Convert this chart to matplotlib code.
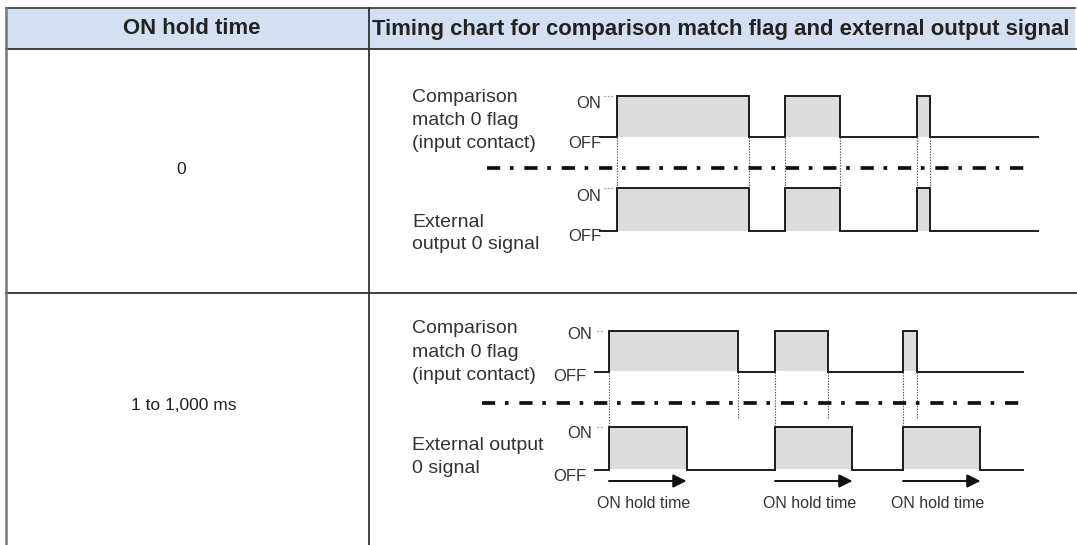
import matplotlib
matplotlib.use("Agg")
import matplotlib.pyplot as plt
from matplotlib.patches import Rectangle

plt.rcParams["font.family"] = ["Liberation Sans", "DejaVu Sans"]
plt.rcParams["lines.scale_dashes"] = False

W, H, DPI = 1077, 545, 100

# ---------------- data ----------------
col_headers = ["ON hold time",
               "Timing chart for comparison match flag and external output signal"]
hold_labels = ["0", "1 to 1,000 ms"]
flag_label = ["Comparison", "match 0 flag", "(input contact)"]
out_label_row1 = ["External", "output 0 signal"]
out_label_row2 = ["External output", "0 signal"]
level_labels = ["ON", "OFF"]
hold_arrow_label = "ON hold time"

# row 1 (ON hold time = 0): transition times (schematic units) and state after each
flag1_t = [-1.7, 0.0, 13.2, 16.8, 22.3, 30.0, 31.3, 42.1]
flag1_v = [0, 1, 0, 1, 0, 1, 0, 0]
out1_t = [-1.7, 0.0, 13.2, 16.8, 22.3, 30.0, 31.3, 42.1]
out1_v = [0, 1, 0, 1, 0, 1, 0, 0]

# row 2 (ON hold time = 1 to 1,000 ms)
flag2_t = [-1.4, 0.0, 12.9, 16.6, 21.9, 29.4, 30.8, 41.4]
flag2_v = [0, 1, 0, 1, 0, 1, 0, 0]
out2_t = [-1.4, 0.0, 7.8, 16.6, 24.3, 29.4, 37.1, 41.4]
out2_v = [0, 1, 0, 1, 0, 1, 0, 0]
hold2_start = [0.0, 16.6, 29.4]
hold2_len = 7.75

# ---------------- layout / style ----------------
HEAD_FILL = "#d3e0f1"
LINE = "#333333"
SIG = "#1c1c1c"
SHADE = "#dcdcdc"
TXT = "#333333"

fig = plt.figure(figsize=(W / DPI, H / DPI), dpi=DPI)
bg = fig.add_axes([0, 0, 1, 1])
bg.set_xlim(0, W)
bg.set_ylim(H, 0)
bg.axis("off")

# table
bg.add_patch(Rectangle((6, 8), 1069, 41, facecolor=HEAD_FILL, edgecolor="none"))
bg.plot([6, 1075], [8, 8], color="#444444", lw=1.3)
bg.plot([6, 1077], [49, 49], color=LINE, lw=1.3)
bg.plot([6, 1077], [292.5, 292.5], color=LINE, lw=1.3)
bg.plot([5.5, 5.5], [8, H], color="#777777", lw=1.8)
bg.plot([369, 369], [8, H], color=LINE, lw=1.3)

bg.text(191.5, 29, col_headers[0], ha="center", va="center",
        fontsize=15.9, fontweight="bold", color="#222222")
bg.text(720.5, 29, col_headers[1], ha="center", va="center",
        fontsize=15.9, fontweight="bold", color="#222222")
bg.text(181, 170, hold_labels[0], ha="center", va="center", fontsize=12.5, color="#222222")
bg.text(184, 405, hold_labels[1], ha="center", va="center", fontsize=12.5, color="#222222")


def px_axes(x0, x1, ytop, ybot):
    return fig.add_axes([x0 / W, 1 - ybot / H, (x1 - x0) / W, (ybot - ytop) / H])


PX_PER_UNIT = 10.0
DX0, DX1 = 400, 1077


def time_lim(origin):
    return ((DX0 - origin) / PX_PER_UNIT, (DX1 - origin) / PX_PER_UNIT)


def lane(origin, high, low, t, v, tick_gap):
    ax = px_axes(DX0, DX1, high, low)
    ax.set_xlim(*time_lim(origin))
    ax.set_ylim(0, 1)
    ax.axis("off")
    ax.fill_between(t, 0, v, step="post", color=SHADE, lw=0, zorder=1)
    ax.plot(t, v, drawstyle="steps-post", color=SIG, lw=1.4, clip_on=False,
            solid_joinstyle="miter", zorder=3)
    # small "ON" tick
    ax.hlines(1, t[0] + tick_gap[0], t[1] - tick_gap[1], colors="#9a9a9a",
              lw=0.9, linestyles=(0, (1.2, 1.2)), clip_on=False)
    return ax


def edges(t, v):
    return [(t[i], v[i]) for i in range(1, len(t)) if v[i] != v[i - 1]]


def overlay(origin, ytop, ybot):
    ax = px_axes(DX0, DX1, ytop, ybot)
    ax.set_xlim(*time_lim(origin))
    ax.set_ylim(ybot, ytop)
    ax.axis("off")
    return ax


def dashdot(ax, x0, x1, y):
    ax.plot([x0, x1], [y, y], color="#111111", lw=2.7,
            dashes=(9.5, 7.0, 2.6, 7.8), solid_capstyle="butt", dash_capstyle="butt")


def labels(lines, baselines, fs=14):
    for s, b in zip(lines, baselines):
        bg.text(412, b, s, ha="left", va="baseline", fontsize=fs, color=TXT)


# ---------- row 1 ----------
o1 = 617
lane(o1, 96, 136.5, flag1_t, flag1_v, (0.4, 0.4))
lane(o1, 188, 230.5, out1_t, out1_v, (0.4, 0.4))
ov1 = overlay(o1, 49, 292)
for te, _ in edges(flag1_t, flag1_v):
    ov1.vlines(te, 137, 188, colors="#555555", lw=0.8, linestyles=(0, (1, 1)))
dashdot(ov1, (487 - o1) / PX_PER_UNIT, (1031 - o1) / PX_PER_UNIT, 168)
labels(flag_label, [102, 125, 148])
labels(out_label_row1, [227, 249])
bg.text(601, 103.5, level_labels[0], ha="right", va="center", fontsize=12, color=TXT)
bg.text(601, 143.5, level_labels[1], ha="right", va="center", fontsize=12, color=TXT)
bg.text(601, 196.5, level_labels[0], ha="right", va="center", fontsize=12, color=TXT)
bg.text(601, 236.5, level_labels[1], ha="right", va="center", fontsize=12, color=TXT)

# ---------- row 2 ----------
o2 = 609
lane(o2, 331, 371.5, flag2_t, flag2_v, (0.2, 0.6))
lane(o2, 427, 469.5, out2_t, out2_v, (0.2, 0.6))
ov2 = overlay(o2, 293, H)
for te, ve in edges(flag2_t, flag2_v):
    ov2.vlines(te, 372, 427 if ve == 1 else 419, colors="#555555", lw=0.8,
               linestyles=(0, (1, 1)))
dashdot(ov2, (482 - o2) / PX_PER_UNIT, (1023 - o2) / PX_PER_UNIT, 403)
labels(flag_label, [333, 357, 380])
labels(out_label_row2, [450, 473])
bg.text(592, 334.5, level_labels[0], ha="right", va="center", fontsize=12, color=TXT)
bg.text(586, 376.5, level_labels[1], ha="right", va="center", fontsize=12, color=TXT)
bg.text(592, 433.5, level_labels[0], ha="right", va="center", fontsize=12, color=TXT)
bg.text(586, 476.5, level_labels[1], ha="right", va="center", fontsize=12, color=TXT)
for ts in hold2_start:
    ov2.annotate("", xy=(ts + hold2_len, 481), xytext=(ts, 481),
                 arrowprops=dict(arrowstyle="-|>", mutation_scale=20, lw=1.4,
                                 color="#111111", shrinkA=0, shrinkB=0))
    ov2.text(ts + hold2_len * 0.45, 503, hold_arrow_label, ha="center", va="center",
             fontsize=11.5, color=TXT)

fig.savefig("out.png", dpi=DPI)
